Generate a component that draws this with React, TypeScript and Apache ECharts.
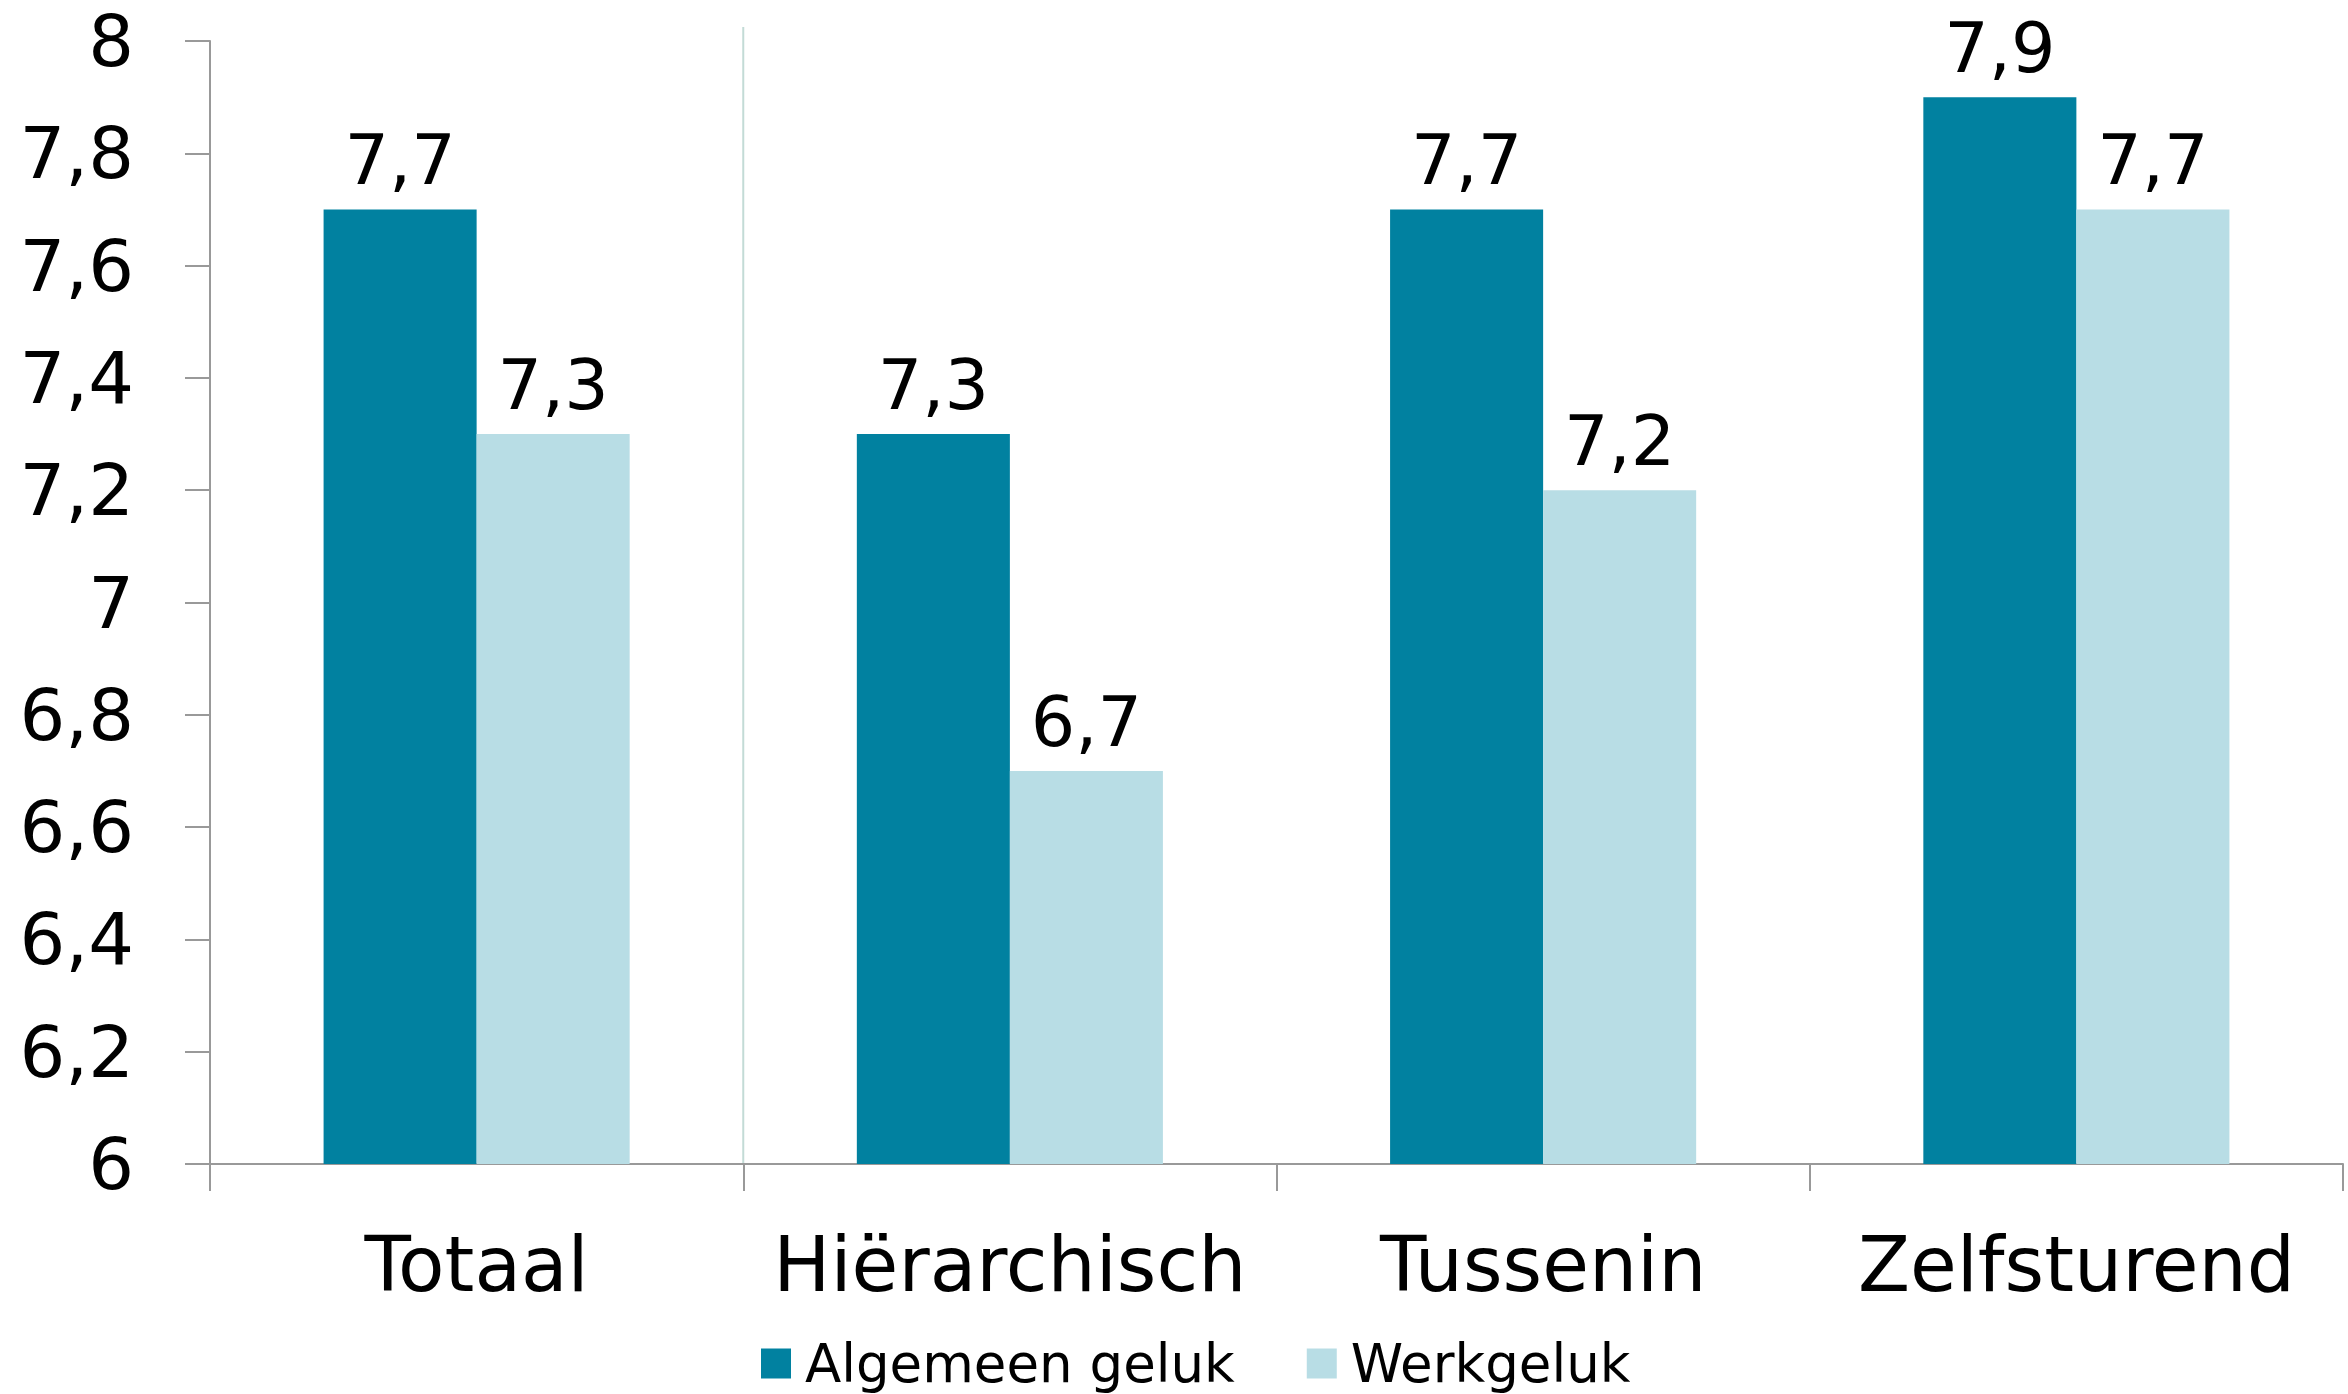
import React, { useEffect, useRef } from "react";
import * as echarts from "echarts";

const categories = ["Totaal", "Hiërarchisch", "Tussenin", "Zelfsturend"];
const algemeenGeluk = [7.7, 7.3, 7.7, 7.9];
const werkgeluk = [7.3, 6.7, 7.2, 7.7];
const seriesNames = ["Algemeen geluk", "Werkgeluk"];

const FONT = "DejaVu Sans";
const fmt = (v: number) => {
  const r = Math.round(v * 10) / 10;
  return Number.isInteger(r) ? String(r) : r.toFixed(1).replace(".", ",");
};

export default function App() {
  const ref = useRef<HTMLDivElement>(null);
  useEffect(() => {
    if (!ref.current) return;
    const chart = echarts.init(ref.current, null, { renderer: "svg" });
    const gridLeft = 210;
    const gridRight = 5;
    const gridTop = 41;
    const gridBottom = 230;
    const W = 2348;
    const H = 1394;
    const catW = (W - gridLeft - gridRight) / categories.length;
    const labelStyle = {
      show: true,
      position: "top",
      distance: 14,
      fontFamily: FONT,
      fontSize: 70,
      color: "#000",
      formatter: (p: any) => fmt(p.value),
    };
    chart.setOption({
      animation: false,
      backgroundColor: "#ffffff",
      grid: { left: gridLeft, right: gridRight, top: gridTop, bottom: gridBottom, containLabel: false },
      legend: {
        data: seriesNames,
        left: 756,
        top: 1332,
        itemWidth: 30,
        itemHeight: 30,
        itemGap: 72,
        icon: "rect",
        textStyle: { fontFamily: FONT, fontSize: 53, color: "#000", padding: [0, 0, 0, 9] },
      },
      xAxis: {
        type: "category",
        data: categories,
        axisLine: { lineStyle: { color: "#999999", width: 2 } },
        axisTick: { show: true, interval: 0, length: 27, lineStyle: { color: "#999999", width: 2 } },
        axisLabel: { interval: 0, fontFamily: FONT, fontSize: 76, color: "#000", margin: 62 },
        splitLine: { show: false },
      },
      yAxis: {
        type: "value",
        min: 6,
        max: 8,
        interval: 0.2,
        axisLine: { show: true, lineStyle: { color: "#999999", width: 2 } },
        axisTick: { show: true, length: 25, lineStyle: { color: "#999999", width: 2 } },
        axisLabel: { fontFamily: FONT, fontSize: 72, color: "#000", margin: 76, formatter: (v: number) => fmt(v) },
        splitLine: { show: false },
      },
      graphic: [
        {
          type: "line",
          shape: { x1: gridLeft + catW, y1: 27, x2: gridLeft + catW, y2: H - gridBottom },
          style: { stroke: "#c3dbd6", lineWidth: 2 },
          z: 0,
        },
      ],
      series: [
        {
          name: seriesNames[0],
          type: "bar",
          data: algemeenGeluk,
          barGap: "0%",
          barCategoryGap: "42.6%",
          itemStyle: { color: "#0181a0" },
          label: labelStyle,
        },
        {
          name: seriesNames[1],
          type: "bar",
          data: werkgeluk,
          barGap: "0%",
          barCategoryGap: "42.6%",
          itemStyle: { color: "#b8dde5" },
          label: labelStyle,
        },
      ],
    });
    return () => chart.dispose();
  }, []);
  return (
    <div
      ref={ref}
      style={{ position: "fixed", left: 0, top: 0, width: 2348, height: 1394, background: "#fff" }}
    />
  );
}
